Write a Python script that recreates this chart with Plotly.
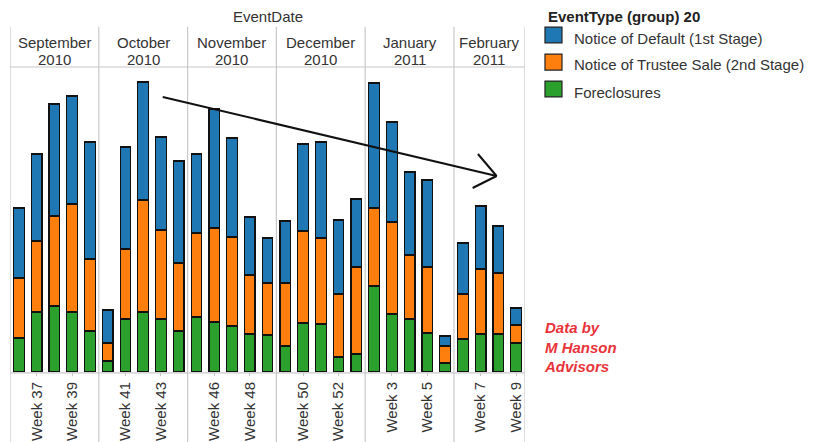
import plotly.graph_objects as go

# Weekly foreclosure-pipeline counts, grouped by calendar month
month_names = ["September", "October", "November", "December", "January", "February"]
month_years = ["2010", "2010", "2010", "2010", "2011", "2011"]
weeks_per_month = [
    [36, 37, 38, 39, 40],
    [40, 41, 42, 43, 44],
    [45, 46, 47, 48, 49],
    [49, 50, 51, 52, 53],
    [2, 3, 4, 5, 6],
    [6, 7, 8, 9],
]

foreclosures = [34, 60, 66, 60, 41,
                11, 53, 60, 53, 41,
                55, 50, 46, 38, 37,
                26, 49, 48, 15, 18,
                86, 58, 53, 39, 9,
                33, 38, 38, 29]
trustee_sale = [60, 71, 90, 108, 72,
                18, 70, 112, 89, 68,
                84, 94, 89, 59, 52,
                63, 92, 86, 63, 87,
                78, 92, 64, 66, 17,
                45, 65, 61, 18]
default_notice = [70, 87, 112, 108, 117,
                  33, 102, 118, 93, 102,
                  79, 119, 99, 58, 45,
                  62, 87, 96, 74, 68,
                  125, 100, 83, 87, 10,
                  51, 63, 47, 17]

series_names = ["Notice of Default (1st Stage)",
                "Notice of Trustee Sale (2nd Stage)",
                "Foreclosures"]
series_colors = ["#1f77b4", "#ff7f0e", "#2ca02c"]

# trend arrow drawn over the bars: (x index, value) pairs
arrow_start = (8.1, 275)
arrow_end = (26.9, 196)
arrow_barb_upper = (25.85, 218)
arrow_barb_lower = (25.55, 184)

FONT = "Liberation Sans, Arial, sans-serif"
FS = 15
TEXT = "#333333"
GRID = "#c8c8c8"

# flatten into positional slots
week_labels = []
positions = []
tick_vals, tick_text = [], []
month_bounds = []
i = 0
for wk in weeks_per_month:
    start = i
    for j, w in enumerate(wk):
        positions.append(i)
        week_labels.append(f"Week {w}")
        if j % 2 == 1:
            tick_vals.append(i)
            tick_text.append(f"Week {w}")
        i += 1
    month_bounds.append((start - 0.5, i - 0.5))

n = len(positions)

fig = go.Figure()
stack = [(series_names[2], foreclosures, series_colors[2]),
         (series_names[1], trustee_sale, series_colors[1]),
         (series_names[0], default_notice, series_colors[0])]
for name, vals, col in stack:
    fig.add_trace(go.Bar(
        x=positions, y=vals, name=name, width=0.6,
        marker=dict(color=col, line=dict(color="#111111", width=1.2)),
        customdata=week_labels,
        hovertemplate="%{customdata}<br>" + name + ": %{y}<extra></extra>",
        showlegend=False,
    ))

shapes = []
# panel borders / month separators
edges = [b[0] for b in month_bounds] + [month_bounds[-1][1]]
for xe in edges:
    shapes.append(dict(type="line", xref="x", yref="paper",
                       x0=xe, x1=xe, y0=-0.235, y1=1.132,
                       line=dict(color=GRID, width=1.2)))
# header bottom rule and baseline
for yy in (1.0, -0.003):
    shapes.append(dict(type="line", xref="x", yref="paper",
                       x0=-0.5, x1=n - 0.5, y0=yy, y1=yy,
                       line=dict(color=GRID, width=1.2)))

# arrow
for a, b in ((arrow_start, arrow_end), (arrow_barb_upper, arrow_end),
             (arrow_barb_lower, arrow_end)):
    shapes.append(dict(type="line", xref="x", yref="y",
                       x0=a[0], y0=a[1], x1=b[0], y1=b[1],
                       line=dict(color="#111111", width=2)))

annotations = []


def label(x, y, text, xref="paper", xanchor="center", size=FS, color=TEXT):
    annotations.append(dict(x=x, y=y, xref=xref, yref="paper", text=text,
                            xanchor=xanchor, yanchor="middle", showarrow=False,
                            font=dict(family=FONT, size=size, color=color)))


# month headers (two lines)
for name, yr, (x0, x1) in zip(month_names, month_years, month_bounds):
    label((x0 + x1) / 2, 1.080, name, xref="x")
    label((x0 + x1) / 2, 1.024, yr, xref="x")
label((n - 1) / 2, 1.164, "EventDate", xref="x")

# legend block
label(1.0408, 1.164, "<b>EventType (group) 20</b>", xanchor="left", color="#222222")
sq_y = [1.105, 1.016, 0.928]
txt_y = [1.095, 1.0066, 0.918]
for name, col, sy, ty in zip(series_names, series_colors, sq_y, txt_y):
    shapes.append(dict(type="rect", xref="paper", yref="paper",
                       x0=1.0388, x1=1.0718, y0=sy - 0.026, y1=sy + 0.026,
                       fillcolor=col, line=dict(color="#222222", width=1.2)))
    label(1.0913, ty, name, xanchor="left")

annotations.append(dict(x=1.033, y=0.082, xref="paper", yref="paper",
                        xanchor="left", yanchor="middle", align="left",
                        text="<b><i>Data by<br>M Hanson<br>Advisors</i></b>",
                        showarrow=False,
                        font=dict(family=FONT, size=15, color="#e8333a")))

fig.update_layout(
    width=814, height=442,
    margin=dict(l=10, r=289, t=67, b=70),
    paper_bgcolor="white", plot_bgcolor="white",
    barmode="stack",
    font=dict(family=FONT, size=FS, color=TEXT),
    shapes=shapes, annotations=annotations,
    xaxis=dict(range=[-0.5, n - 0.5], tickvals=tick_vals, ticktext=tick_text,
               tickangle=-90, ticks="outside", ticklen=3, tickcolor=GRID,
               showgrid=False, zeroline=False, showline=False, automargin=False,
               tickfont=dict(family=FONT, size=FS, color=TEXT)),
    yaxis=dict(range=[0, 305], visible=False, showgrid=False, automargin=False),
)

fig.write_html("out.html")
